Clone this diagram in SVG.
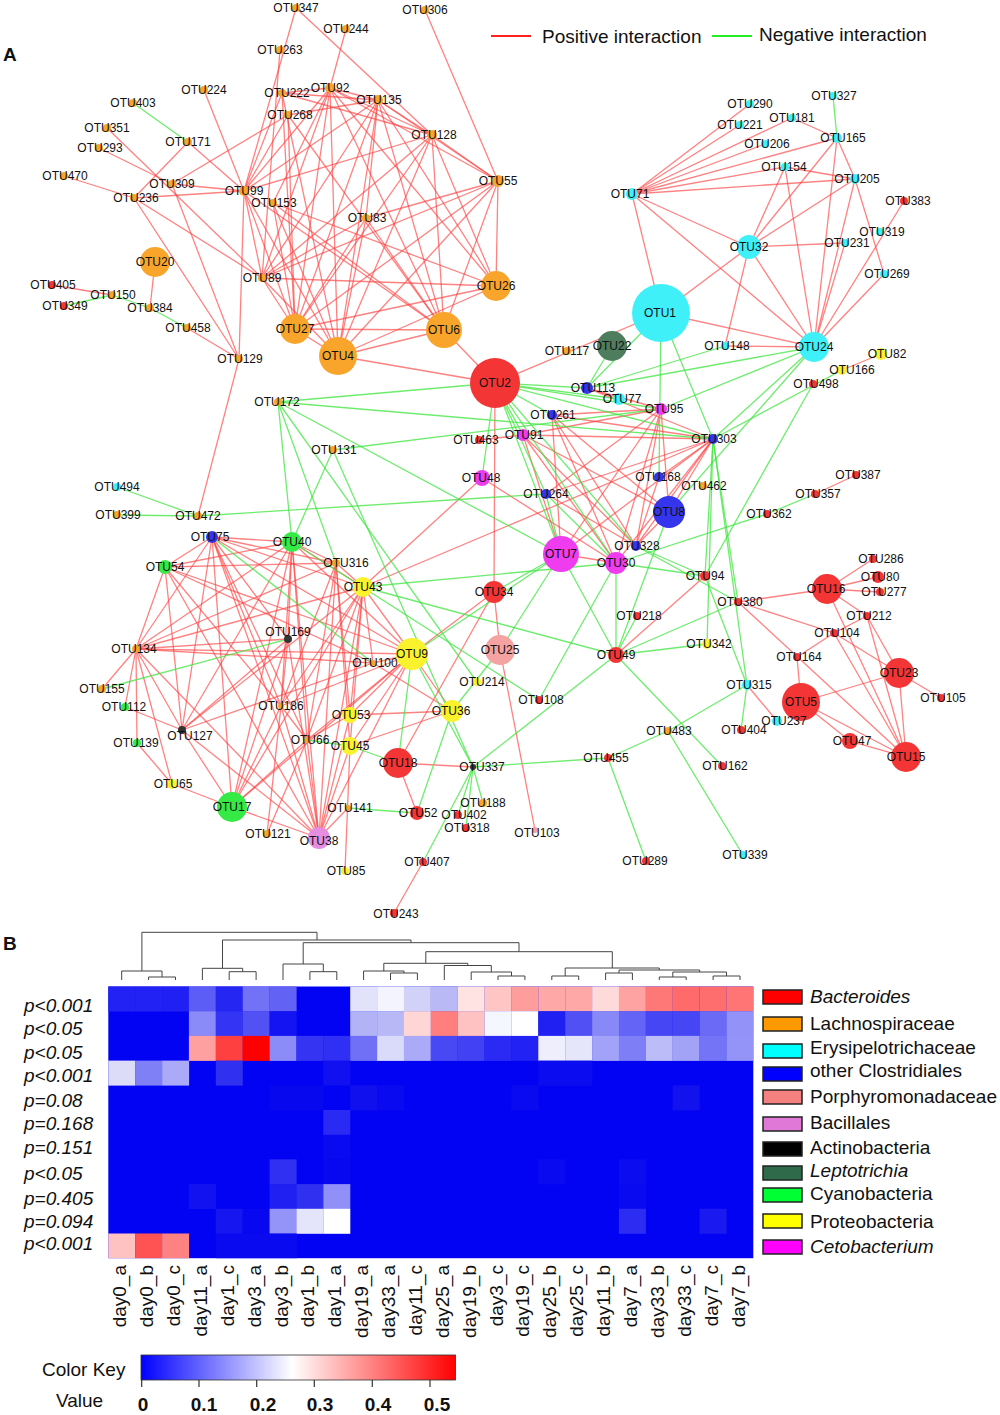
<svg xmlns="http://www.w3.org/2000/svg" width="1000" height="1415" viewBox="0 0 1000 1415">
<defs>
<linearGradient id="ck" x1="0" y1="0" x2="1" y2="0">
<stop offset="0" stop-color="#0000ff"/><stop offset="0.48" stop-color="#ffffff"/><stop offset="1" stop-color="#ff0000"/>
</linearGradient>
</defs>
<style>
.p{stroke:#ff4040;stroke-opacity:.66;stroke-width:1.3}
.n{stroke:#3ee63e;stroke-opacity:.75;stroke-width:1.3}
#nodes text{font-family:'Liberation Sans',Arial,sans-serif;font-size:12px;text-anchor:middle;fill:#111}
.L{fill:#f9a52c}.B{fill:#f43535}.E{fill:#3ff0f8}.C{fill:#3535ee}.M{fill:#ee3cee}.P{fill:#fbf22e}.G{fill:#35ea45}.K{fill:#333}.T{fill:#4d7d5d}.O{fill:#e58de0}.R{fill:#f4a2a2}
.t{font-family:'Liberation Sans',Arial,sans-serif;font-size:19px;fill:#111}
.it{font-style:italic}
.bd{font-weight:bold}
.dg{fill:none;stroke:#444;stroke-width:1}
.lg{stroke:#222;stroke-width:1.5}
</style>
<rect width="1000" height="1415" fill="#fff"/>
<text class="t bd" x="3" y="61" font-size="21">A</text>
<text class="t bd" x="3" y="950" font-size="21">B</text>
<g id="legend-top">
<line x1="491" y1="36" x2="531" y2="36" stroke="#ff2020" stroke-width="2"/>
<text class="t" x="542" y="43">Positive interaction</text>
<line x1="712" y1="36" x2="752" y2="36" stroke="#22ee22" stroke-width="2"/>
<text class="t" x="759" y="41">Negative interaction</text>
</g>
<g id="connectors">
<g class="p">
<line x1="52" y1="285" x2="112" y2="295"/><line x1="187" y1="328" x2="239" y2="359"/><line x1="155" y1="262" x2="150" y2="308"/><line x1="64" y1="176" x2="134" y2="198"/><line x1="188" y1="142" x2="134" y2="198"/><line x1="188" y1="142" x2="244" y2="191"/><line x1="107" y1="128" x2="262" y2="278"/><line x1="99" y1="148" x2="172" y2="184"/><line x1="172" y1="184" x2="244" y2="191"/><line x1="134" y1="198" x2="244" y2="191"/><line x1="172" y1="184" x2="288" y2="115"/><line x1="134" y1="198" x2="262" y2="278"/><line x1="134" y1="198" x2="239" y2="359"/><line x1="172" y1="184" x2="239" y2="359"/><line x1="204" y1="90" x2="244" y2="191"/><line x1="296" y1="8" x2="244" y2="191"/><line x1="280" y1="50" x2="262" y2="278"/><line x1="282" y1="93" x2="244" y2="191"/><line x1="288" y1="115" x2="244" y2="191"/><line x1="244" y1="191" x2="330" y2="88"/><line x1="244" y1="191" x2="378" y2="100"/><line x1="244" y1="191" x2="432" y2="135"/><line x1="244" y1="191" x2="239" y2="359"/><line x1="244" y1="191" x2="295" y2="329"/><line x1="244" y1="191" x2="338" y2="356"/><line x1="244" y1="191" x2="262" y2="278"/><line x1="244" y1="191" x2="444" y2="330"/><line x1="239" y1="359" x2="198" y2="516"/>
<line x1="296" y1="8" x2="432" y2="135"/><line x1="346" y1="29" x2="330" y2="88"/><line x1="425" y1="10" x2="498" y2="181"/><line x1="330" y1="88" x2="378" y2="100"/><line x1="330" y1="88" x2="432" y2="135"/><line x1="330" y1="88" x2="498" y2="181"/><line x1="330" y1="88" x2="282" y2="93"/><line x1="330" y1="88" x2="295" y2="329"/><line x1="330" y1="88" x2="338" y2="356"/><line x1="330" y1="88" x2="444" y2="330"/><line x1="330" y1="88" x2="496" y2="286"/><line x1="330" y1="88" x2="262" y2="278"/><line x1="330" y1="88" x2="273" y2="203"/><line x1="378" y1="100" x2="282" y2="93"/><line x1="378" y1="100" x2="288" y2="115"/><line x1="378" y1="100" x2="432" y2="135"/><line x1="378" y1="100" x2="498" y2="181"/><line x1="378" y1="100" x2="295" y2="329"/><line x1="378" y1="100" x2="338" y2="356"/><line x1="378" y1="100" x2="444" y2="330"/><line x1="378" y1="100" x2="496" y2="286"/><line x1="378" y1="100" x2="262" y2="278"/><line x1="378" y1="100" x2="366" y2="218"/><line x1="432" y1="135" x2="498" y2="181"/><line x1="432" y1="135" x2="295" y2="329"/><line x1="432" y1="135" x2="338" y2="356"/><line x1="432" y1="135" x2="444" y2="330"/><line x1="432" y1="135" x2="496" y2="286"/><line x1="432" y1="135" x2="262" y2="278"/><line x1="432" y1="135" x2="282" y2="93"/><line x1="498" y1="181" x2="262" y2="278"/><line x1="498" y1="181" x2="295" y2="329"/><line x1="498" y1="181" x2="338" y2="356"/><line x1="498" y1="181" x2="444" y2="330"/><line x1="498" y1="181" x2="496" y2="286"/><line x1="498" y1="181" x2="366" y2="218"/><line x1="496" y1="286" x2="262" y2="278"/><line x1="496" y1="286" x2="295" y2="329"/><line x1="496" y1="286" x2="338" y2="356"/><line x1="496" y1="286" x2="273" y2="203"/><line x1="295" y1="329" x2="262" y2="278"/><line x1="295" y1="329" x2="338" y2="356"/><line x1="295" y1="329" x2="444" y2="330"/><line x1="295" y1="329" x2="273" y2="203"/><line x1="295" y1="329" x2="282" y2="93"/><line x1="295" y1="329" x2="288" y2="115"/><line x1="338" y1="356" x2="444" y2="330"/><line x1="338" y1="356" x2="262" y2="278"/><line x1="338" y1="356" x2="273" y2="203"/><line x1="338" y1="356" x2="366" y2="218"/><line x1="338" y1="356" x2="495" y2="383"/><line x1="444" y1="330" x2="495" y2="383"/><line x1="444" y1="330" x2="366" y2="218"/><line x1="444" y1="330" x2="273" y2="203"/><line x1="366" y1="218" x2="262" y2="278"/><line x1="366" y1="218" x2="295" y2="329"/><line x1="282" y1="93" x2="338" y2="356"/><line x1="288" y1="115" x2="444" y2="330"/><line x1="495" y1="383" x2="661" y2="313"/>
<line x1="750" y1="104" x2="632" y2="194"/><line x1="740" y1="125" x2="632" y2="194"/><line x1="632" y1="194" x2="792" y2="118"/><line x1="632" y1="194" x2="837" y2="138"/><line x1="632" y1="194" x2="765" y2="144"/><line x1="632" y1="194" x2="785" y2="167"/><line x1="632" y1="194" x2="855" y2="179"/><line x1="632" y1="194" x2="749" y2="247"/><line x1="632" y1="194" x2="814" y2="347"/><line x1="632" y1="194" x2="661" y2="313"/><line x1="792" y1="118" x2="837" y2="138"/><line x1="837" y1="138" x2="749" y2="247"/><line x1="837" y1="138" x2="814" y2="347"/><line x1="837" y1="138" x2="855" y2="179"/><line x1="785" y1="167" x2="855" y2="179"/><line x1="785" y1="167" x2="749" y2="247"/><line x1="785" y1="167" x2="814" y2="347"/><line x1="855" y1="179" x2="749" y2="247"/><line x1="855" y1="179" x2="814" y2="347"/><line x1="855" y1="179" x2="884" y2="274"/><line x1="845" y1="243" x2="814" y2="347"/><line x1="749" y1="247" x2="845" y2="243"/><line x1="749" y1="247" x2="725" y2="346"/><line x1="749" y1="247" x2="814" y2="347"/><line x1="749" y1="247" x2="661" y2="313"/><line x1="904" y1="201" x2="814" y2="347"/><line x1="884" y1="274" x2="814" y2="347"/><line x1="661" y1="313" x2="814" y2="347"/><line x1="725" y1="346" x2="814" y2="347"/><line x1="881" y1="354" x2="842" y2="370"/>
<line x1="495" y1="383" x2="494" y2="592"/><line x1="482" y1="478" x2="363" y2="587"/><line x1="523" y1="435" x2="561" y2="554"/><line x1="523" y1="435" x2="616" y2="563"/><line x1="523" y1="435" x2="636" y2="546"/><line x1="523" y1="435" x2="669" y2="512"/><line x1="523" y1="435" x2="713" y2="439"/><line x1="523" y1="435" x2="661" y2="409"/><line x1="552" y1="415" x2="561" y2="554"/><line x1="552" y1="415" x2="616" y2="563"/><line x1="552" y1="415" x2="636" y2="546"/><line x1="552" y1="415" x2="713" y2="439"/><line x1="552" y1="415" x2="661" y2="409"/><line x1="552" y1="415" x2="669" y2="512"/><line x1="661" y1="409" x2="561" y2="554"/><line x1="661" y1="409" x2="616" y2="563"/><line x1="661" y1="409" x2="636" y2="546"/><line x1="661" y1="409" x2="546" y2="494"/><line x1="661" y1="409" x2="587" y2="388"/><line x1="661" y1="409" x2="669" y2="512"/><line x1="713" y1="439" x2="636" y2="546"/><line x1="713" y1="439" x2="669" y2="512"/><line x1="713" y1="439" x2="546" y2="494"/><line x1="713" y1="439" x2="561" y2="554"/><line x1="713" y1="439" x2="616" y2="563"/><line x1="587" y1="388" x2="713" y2="439"/><line x1="587" y1="388" x2="619" y2="399"/><line x1="659" y1="477" x2="636" y2="546"/><line x1="659" y1="477" x2="713" y2="439"/><line x1="523" y1="435" x2="479" y2="440"/><line x1="561" y1="554" x2="616" y2="563"/><line x1="482" y1="478" x2="616" y2="563"/><line x1="363" y1="587" x2="713" y2="439"/><line x1="669" y1="512" x2="636" y2="546"/><line x1="546" y1="494" x2="636" y2="546"/><line x1="494" y1="592" x2="500" y2="650"/><line x1="494" y1="592" x2="398" y2="763"/><line x1="412" y1="654" x2="494" y2="592"/><line x1="500" y1="650" x2="535" y2="830"/><line x1="705" y1="576" x2="616" y2="655"/><line x1="398" y1="763" x2="473" y2="767"/><line x1="398" y1="763" x2="417" y2="813"/><line x1="423" y1="862" x2="394" y2="913"/><line x1="747" y1="685" x2="777" y2="721"/>
<line x1="856" y1="475" x2="815" y2="494"/><line x1="827" y1="589" x2="873" y2="559"/><line x1="827" y1="589" x2="878" y2="577"/><line x1="827" y1="589" x2="880" y2="592"/><line x1="827" y1="589" x2="738" y2="602"/><line x1="827" y1="589" x2="867" y2="616"/><line x1="827" y1="589" x2="906" y2="757"/><line x1="738" y1="602" x2="834" y2="633"/><line x1="738" y1="602" x2="906" y2="757"/><line x1="834" y1="633" x2="797" y2="657"/><line x1="834" y1="633" x2="867" y2="616"/><line x1="834" y1="633" x2="899" y2="673"/><line x1="834" y1="633" x2="906" y2="757"/><line x1="867" y1="616" x2="899" y2="673"/><line x1="867" y1="616" x2="906" y2="757"/><line x1="797" y1="657" x2="801" y2="702"/><line x1="801" y1="702" x2="899" y2="673"/><line x1="801" y1="702" x2="850" y2="741"/><line x1="801" y1="702" x2="906" y2="757"/><line x1="850" y1="741" x2="906" y2="757"/><line x1="899" y1="673" x2="906" y2="757"/><line x1="899" y1="673" x2="941" y2="698"/>
<line x1="212" y1="537" x2="292" y2="542"/><line x1="212" y1="537" x2="336" y2="563"/><line x1="212" y1="537" x2="363" y2="587"/><line x1="212" y1="537" x2="165" y2="567"/><line x1="212" y1="537" x2="136" y2="649"/><line x1="212" y1="537" x2="182" y2="730"/><line x1="212" y1="537" x2="288" y2="639"/><line x1="212" y1="537" x2="281" y2="706"/><line x1="212" y1="537" x2="232" y2="807"/><line x1="212" y1="537" x2="412" y2="654"/><line x1="212" y1="537" x2="319" y2="838"/><line x1="212" y1="537" x2="307" y2="740"/><line x1="292" y1="542" x2="165" y2="567"/><line x1="292" y1="542" x2="336" y2="563"/><line x1="292" y1="542" x2="363" y2="587"/><line x1="292" y1="542" x2="136" y2="649"/><line x1="292" y1="542" x2="288" y2="639"/><line x1="292" y1="542" x2="281" y2="706"/><line x1="292" y1="542" x2="182" y2="730"/><line x1="292" y1="542" x2="412" y2="654"/><line x1="292" y1="542" x2="307" y2="740"/><line x1="292" y1="542" x2="319" y2="838"/><line x1="292" y1="542" x2="232" y2="807"/><line x1="165" y1="567" x2="336" y2="563"/><line x1="165" y1="567" x2="136" y2="649"/><line x1="165" y1="567" x2="182" y2="730"/><line x1="165" y1="567" x2="412" y2="654"/><line x1="165" y1="567" x2="281" y2="706"/><line x1="165" y1="567" x2="319" y2="838"/><line x1="336" y1="563" x2="363" y2="587"/><line x1="336" y1="563" x2="136" y2="649"/><line x1="336" y1="563" x2="281" y2="706"/><line x1="336" y1="563" x2="350" y2="715"/><line x1="336" y1="563" x2="350" y2="746"/><line x1="336" y1="563" x2="307" y2="740"/><line x1="336" y1="563" x2="319" y2="838"/><line x1="363" y1="587" x2="136" y2="649"/><line x1="363" y1="587" x2="373" y2="663"/><line x1="363" y1="587" x2="412" y2="654"/><line x1="363" y1="587" x2="281" y2="706"/><line x1="363" y1="587" x2="350" y2="715"/><line x1="363" y1="587" x2="350" y2="746"/><line x1="363" y1="587" x2="307" y2="740"/><line x1="363" y1="587" x2="319" y2="838"/><line x1="363" y1="587" x2="232" y2="807"/><line x1="363" y1="587" x2="182" y2="730"/><line x1="288" y1="639" x2="182" y2="730"/><line x1="288" y1="639" x2="281" y2="706"/><line x1="288" y1="639" x2="232" y2="807"/><line x1="288" y1="639" x2="319" y2="838"/><line x1="288" y1="639" x2="136" y2="649"/><line x1="136" y1="649" x2="102" y2="689"/><line x1="136" y1="649" x2="125" y2="707"/><line x1="136" y1="649" x2="137" y2="743"/><line x1="136" y1="649" x2="172" y2="784"/><line x1="136" y1="649" x2="182" y2="730"/><line x1="136" y1="649" x2="373" y2="663"/><line x1="136" y1="649" x2="412" y2="654"/><line x1="136" y1="649" x2="319" y2="838"/><line x1="373" y1="663" x2="182" y2="730"/><line x1="412" y1="654" x2="350" y2="715"/><line x1="412" y1="654" x2="350" y2="746"/><line x1="412" y1="654" x2="307" y2="740"/><line x1="412" y1="654" x2="281" y2="706"/><line x1="412" y1="654" x2="319" y2="838"/><line x1="412" y1="654" x2="452" y2="711"/><line x1="412" y1="654" x2="232" y2="807"/><line x1="125" y1="707" x2="182" y2="730"/><line x1="281" y1="706" x2="319" y2="838"/><line x1="281" y1="706" x2="232" y2="807"/><line x1="281" y1="706" x2="267" y2="834"/><line x1="281" y1="706" x2="307" y2="740"/><line x1="350" y1="715" x2="319" y2="838"/><line x1="350" y1="715" x2="307" y2="740"/><line x1="182" y1="730" x2="232" y2="807"/><line x1="182" y1="730" x2="319" y2="838"/><line x1="137" y1="743" x2="172" y2="784"/><line x1="307" y1="740" x2="319" y2="838"/><line x1="307" y1="740" x2="267" y2="834"/><line x1="307" y1="740" x2="232" y2="807"/><line x1="350" y1="746" x2="319" y2="838"/><line x1="350" y1="746" x2="345" y2="871"/><line x1="232" y1="807" x2="172" y2="784"/><line x1="232" y1="807" x2="319" y2="838"/><line x1="348" y1="808" x2="319" y2="838"/><line x1="452" y1="711" x2="350" y2="715"/><line x1="452" y1="711" x2="350" y2="746"/><line x1="452" y1="711" x2="373" y2="663"/><line x1="412" y1="654" x2="373" y2="663"/><line x1="165" y1="567" x2="373" y2="663"/>
</g>
<g class="n">
<line x1="133" y1="103" x2="188" y2="142"/><line x1="64" y1="306" x2="112" y2="295"/><line x1="112" y1="295" x2="150" y2="308"/><line x1="150" y1="308" x2="187" y2="328"/><line x1="833" y1="96" x2="837" y2="138"/><line x1="495" y1="383" x2="278" y2="402"/><line x1="495" y1="383" x2="587" y2="388"/><line x1="495" y1="383" x2="619" y2="399"/><line x1="495" y1="383" x2="661" y2="409"/><line x1="495" y1="383" x2="713" y2="439"/><line x1="495" y1="383" x2="552" y2="415"/><line x1="495" y1="383" x2="523" y2="435"/><line x1="495" y1="383" x2="546" y2="494"/><line x1="495" y1="383" x2="561" y2="554"/><line x1="495" y1="383" x2="482" y2="478"/><line x1="495" y1="383" x2="616" y2="563"/><line x1="495" y1="383" x2="636" y2="546"/><line x1="612" y1="346" x2="587" y2="388"/><line x1="661" y1="313" x2="587" y2="388"/><line x1="725" y1="346" x2="587" y2="388"/><line x1="814" y1="347" x2="587" y2="388"/><line x1="814" y1="347" x2="661" y2="409"/><line x1="814" y1="347" x2="669" y2="512"/><line x1="814" y1="347" x2="713" y2="439"/><line x1="661" y1="313" x2="659" y2="477"/><line x1="661" y1="313" x2="713" y2="439"/><line x1="842" y1="370" x2="713" y2="439"/><line x1="813" y1="384" x2="705" y2="576"/><line x1="278" y1="402" x2="713" y2="439"/><line x1="278" y1="402" x2="292" y2="542"/><line x1="278" y1="402" x2="336" y2="563"/><line x1="278" y1="402" x2="561" y2="554"/><line x1="278" y1="402" x2="477" y2="682"/><line x1="333" y1="450" x2="292" y2="542"/><line x1="333" y1="450" x2="661" y2="409"/><line x1="333" y1="450" x2="473" y2="767"/><line x1="292" y1="542" x2="539" y2="700"/><line x1="198" y1="516" x2="117" y2="515"/><line x1="198" y1="516" x2="117" y2="487"/><line x1="198" y1="516" x2="546" y2="494"/><line x1="546" y1="494" x2="561" y2="554"/><line x1="546" y1="494" x2="616" y2="563"/><line x1="713" y1="439" x2="705" y2="576"/><line x1="713" y1="439" x2="747" y2="685"/><line x1="713" y1="439" x2="707" y2="644"/><line x1="713" y1="439" x2="738" y2="602"/><line x1="669" y1="512" x2="616" y2="655"/><line x1="636" y1="546" x2="705" y2="576"/><line x1="616" y1="563" x2="705" y2="576"/><line x1="616" y1="563" x2="539" y2="700"/><line x1="616" y1="563" x2="616" y2="655"/><line x1="561" y1="554" x2="616" y2="655"/><line x1="561" y1="554" x2="494" y2="592"/><line x1="561" y1="554" x2="412" y2="654"/><line x1="561" y1="554" x2="500" y2="650"/><line x1="637" y1="616" x2="616" y2="655"/><line x1="707" y1="644" x2="616" y2="655"/><line x1="738" y1="602" x2="616" y2="655"/><line x1="616" y1="655" x2="473" y2="767"/><line x1="616" y1="655" x2="722" y2="766"/><line x1="363" y1="587" x2="616" y2="655"/><line x1="363" y1="587" x2="616" y2="563"/><line x1="500" y1="650" x2="452" y2="711"/><line x1="412" y1="654" x2="473" y2="767"/><line x1="412" y1="654" x2="398" y2="763"/><line x1="452" y1="711" x2="417" y2="813"/><line x1="473" y1="767" x2="608" y2="758"/><line x1="608" y1="758" x2="668" y2="731"/><line x1="608" y1="758" x2="646" y2="861"/><line x1="668" y1="731" x2="743" y2="855"/><line x1="668" y1="731" x2="747" y2="685"/><line x1="747" y1="685" x2="741" y2="730"/><line x1="473" y1="767" x2="483" y2="803"/><line x1="473" y1="767" x2="458" y2="815"/><line x1="473" y1="767" x2="466" y2="828"/><line x1="473" y1="767" x2="423" y2="862"/><line x1="348" y1="808" x2="417" y2="813"/><line x1="350" y1="746" x2="398" y2="763"/><line x1="307" y1="740" x2="350" y2="746"/><line x1="288" y1="639" x2="102" y2="689"/><line x1="212" y1="537" x2="373" y2="663"/><line x1="815" y1="494" x2="767" y2="514"/><line x1="767" y1="514" x2="616" y2="563"/><line x1="705" y1="576" x2="747" y2="685"/><line x1="738" y1="602" x2="636" y2="546"/>
</g>
</g>
<g id="nodes">
<g id="otu347"><circle class="L" cx="296" cy="8" r="4"/><text x="296" y="12">OTU347</text></g>
<g id="otu244"><circle class="L" cx="346" cy="29" r="4"/><text x="346" y="33">OTU244</text></g>
<g id="otu306"><circle class="L" cx="425" cy="10" r="4"/><text x="425" y="14">OTU306</text></g>
<g id="otu263"><circle class="L" cx="280" cy="50" r="4"/><text x="280" y="54">OTU263</text></g>
<g id="otu224"><circle class="L" cx="204" cy="90" r="4"/><text x="204" y="94">OTU224</text></g>
<g id="otu222"><circle class="L" cx="282" cy="93" r="4"/><text x="287" y="97">OTU222</text></g>
<g id="otu92"><circle class="L" cx="330" cy="88" r="5"/><text x="330" y="92">OTU92</text></g>
<g id="otu135"><circle class="L" cx="378" cy="100" r="5"/><text x="379" y="104">OTU135</text></g>
<g id="otu268"><circle class="L" cx="288" cy="115" r="4"/><text x="290" y="119">OTU268</text></g>
<g id="otu128"><circle class="L" cx="432" cy="135" r="5"/><text x="434" y="139">OTU128</text></g>
<g id="otu55"><circle class="L" cx="498" cy="181" r="6"/><text x="498" y="185">OTU55</text></g>
<g id="otu99"><circle class="L" cx="244" cy="191" r="5"/><text x="244" y="195">OTU99</text></g>
<g id="otu153"><circle class="L" cx="273" cy="203" r="4"/><text x="274" y="207">OTU153</text></g>
<g id="otu83"><circle class="L" cx="366" cy="218" r="4"/><text x="367" y="222">OTU83</text></g>
<g id="otu89"><circle class="L" cx="262" cy="278" r="4"/><text x="262" y="282">OTU89</text></g>
<g id="otu403"><circle class="L" cx="133" cy="103" r="4"/><text x="133" y="107">OTU403</text></g>
<g id="otu351"><circle class="L" cx="107" cy="128" r="4"/><text x="107" y="132">OTU351</text></g>
<g id="otu171"><circle class="L" cx="188" cy="142" r="4"/><text x="188" y="146">OTU171</text></g>
<g id="otu293"><circle class="L" cx="99" cy="148" r="4"/><text x="100" y="152">OTU293</text></g>
<g id="otu470"><circle class="L" cx="64" cy="176" r="4"/><text x="65" y="180">OTU470</text></g>
<g id="otu309"><circle class="L" cx="172" cy="184" r="4"/><text x="172" y="188">OTU309</text></g>
<g id="otu236"><circle class="L" cx="134" cy="198" r="4"/><text x="136" y="202">OTU236</text></g>
<g id="otu20"><circle class="L" cx="155" cy="262" r="15"/><text x="155" y="266">OTU20</text></g>
<g id="otu405"><circle class="B" cx="52" cy="285" r="4"/><text x="53" y="289">OTU405</text></g>
<g id="otu150"><circle class="L" cx="112" cy="295" r="4"/><text x="113" y="299">OTU150</text></g>
<g id="otu349"><circle class="B" cx="64" cy="306" r="4"/><text x="65" y="310">OTU349</text></g>
<g id="otu384"><circle class="L" cx="150" cy="308" r="4"/><text x="150" y="312">OTU384</text></g>
<g id="otu458"><circle class="L" cx="187" cy="328" r="4"/><text x="188" y="332">OTU458</text></g>
<g id="otu129"><circle class="L" cx="239" cy="359" r="4"/><text x="240" y="363">OTU129</text></g>
<g id="otu26"><circle class="L" cx="496" cy="286" r="15"/><text x="496" y="290">OTU26</text></g>
<g id="otu27"><circle class="L" cx="295" cy="329" r="15"/><text x="295" y="333">OTU27</text></g>
<g id="otu6"><circle class="L" cx="444" cy="330" r="18"/><text x="444" y="334">OTU6</text></g>
<g id="otu4"><circle class="L" cx="338" cy="356" r="19"/><text x="338" y="360">OTU4</text></g>
<g id="otu2"><circle class="B" cx="495" cy="383" r="25"/><text x="495" y="387">OTU2</text></g>
<g id="otu117"><circle class="L" cx="567" cy="351" r="4"/><text x="567" y="355">OTU117</text></g>
<g id="otu290"><circle class="E" cx="750" cy="104" r="4"/><text x="750" y="108">OTU290</text></g>
<g id="otu327"><circle class="E" cx="833" cy="96" r="4"/><text x="834" y="100">OTU327</text></g>
<g id="otu221"><circle class="E" cx="740" cy="125" r="4"/><text x="740" y="129">OTU221</text></g>
<g id="otu181"><circle class="E" cx="792" cy="118" r="4"/><text x="792" y="122">OTU181</text></g>
<g id="otu165"><circle class="E" cx="837" cy="138" r="5"/><text x="843" y="142">OTU165</text></g>
<g id="otu206"><circle class="E" cx="765" cy="144" r="4"/><text x="767" y="148">OTU206</text></g>
<g id="otu154"><circle class="E" cx="785" cy="167" r="4"/><text x="784" y="171">OTU154</text></g>
<g id="otu205"><circle class="E" cx="855" cy="179" r="5"/><text x="857" y="183">OTU205</text></g>
<g id="otu71"><circle class="E" cx="632" cy="194" r="6"/><text x="630" y="198">OTU71</text></g>
<g id="otu383"><circle class="B" cx="904" cy="201" r="4"/><text x="908" y="205">OTU383</text></g>
<g id="otu319"><circle class="E" cx="880" cy="232" r="4"/><text x="882" y="236">OTU319</text></g>
<g id="otu32"><circle class="E" cx="749" cy="247" r="12"/><text x="749" y="251">OTU32</text></g>
<g id="otu231"><circle class="E" cx="845" cy="243" r="4"/><text x="847" y="247">OTU231</text></g>
<g id="otu269"><circle class="E" cx="884" cy="274" r="4"/><text x="887" y="278">OTU269</text></g>
<g id="otu1"><circle class="E" cx="661" cy="313" r="29"/><text x="660" y="317">OTU1</text></g>
<g id="otu22"><circle class="T" cx="612" cy="346" r="15"/><text x="612" y="350">OTU22</text></g>
<g id="otu148"><circle class="E" cx="725" cy="346" r="4"/><text x="727" y="350">OTU148</text></g>
<g id="otu24"><circle class="E" cx="814" cy="347" r="15"/><text x="814" y="351">OTU24</text></g>
<g id="otu82"><circle class="P" cx="881" cy="354" r="6"/><text x="887" y="358">OTU82</text></g>
<g id="otu166"><circle class="P" cx="842" cy="370" r="5"/><text x="852" y="374">OTU166</text></g>
<g id="otu498"><circle class="B" cx="813" cy="384" r="4"/><text x="816" y="388">OTU498</text></g>
<g id="otu113"><circle class="C" cx="587" cy="388" r="6"/><text x="593" y="392">OTU113</text></g>
<g id="otu77"><circle class="E" cx="619" cy="399" r="6"/><text x="622" y="403">OTU77</text></g>
<g id="otu95"><circle class="M" cx="661" cy="409" r="6"/><text x="664" y="413">OTU95</text></g>
<g id="otu261"><circle class="C" cx="552" cy="415" r="5"/><text x="553" y="419">OTU261</text></g>
<g id="otu172"><circle class="L" cx="278" cy="402" r="4"/><text x="277" y="406">OTU172</text></g>
<g id="otu463"><circle class="B" cx="479" cy="440" r="4"/><text x="476" y="444">OTU463</text></g>
<g id="otu91"><circle class="M" cx="523" cy="435" r="6"/><text x="524" y="439">OTU91</text></g>
<g id="otu303"><circle class="C" cx="713" cy="439" r="5"/><text x="714" y="443">OTU303</text></g>
<g id="otu131"><circle class="L" cx="333" cy="450" r="4"/><text x="334" y="454">OTU131</text></g>
<g id="otu48"><circle class="M" cx="482" cy="478" r="8"/><text x="481" y="482">OTU48</text></g>
<g id="otu168"><circle class="C" cx="659" cy="477" r="5"/><text x="658" y="481">OTU168</text></g>
<g id="otu462"><circle class="L" cx="703" cy="486" r="4"/><text x="704" y="490">OTU462</text></g>
<g id="otu264"><circle class="C" cx="546" cy="494" r="5"/><text x="546" y="498">OTU264</text></g>
<g id="otu8"><circle class="C" cx="669" cy="512" r="16"/><text x="669" y="516">OTU8</text></g>
<g id="otu387"><circle class="B" cx="856" cy="475" r="4"/><text x="858" y="479">OTU387</text></g>
<g id="otu357"><circle class="B" cx="815" cy="494" r="4"/><text x="818" y="498">OTU357</text></g>
<g id="otu362"><circle class="B" cx="767" cy="514" r="4"/><text x="769" y="518">OTU362</text></g>
<g id="otu494"><circle class="E" cx="117" cy="487" r="4"/><text x="117" y="491">OTU494</text></g>
<g id="otu399"><circle class="L" cx="117" cy="515" r="4"/><text x="118" y="519">OTU399</text></g>
<g id="otu472"><circle class="L" cx="198" cy="516" r="4"/><text x="198" y="520">OTU472</text></g>
<g id="otu75"><circle class="C" cx="212" cy="537" r="6"/><text x="210" y="541">OTU75</text></g>
<g id="otu40"><circle class="G" cx="292" cy="542" r="10"/><text x="292" y="546">OTU40</text></g>
<g id="otu54"><circle class="G" cx="165" cy="567" r="7"/><text x="165" y="571">OTU54</text></g>
<g id="otu316"><circle class="L" cx="336" cy="563" r="4"/><text x="346" y="567">OTU316</text></g>
<g id="otu43"><circle class="P" cx="363" cy="587" r="10"/><text x="363" y="591">OTU43</text></g>
<g id="otu328"><circle class="C" cx="636" cy="546" r="5"/><text x="637" y="550">OTU328</text></g>
<g id="otu7"><circle class="M" cx="561" cy="554" r="18"/><text x="561" y="558">OTU7</text></g>
<g id="otu30"><circle class="M" cx="616" cy="563" r="11"/><text x="616" y="567">OTU30</text></g>
<g id="otu94"><circle class="B" cx="705" cy="576" r="5"/><text x="705" y="580">OTU94</text></g>
<g id="otu34"><circle class="B" cx="494" cy="592" r="11"/><text x="494" y="596">OTU34</text></g>
<g id="otu380"><circle class="B" cx="738" cy="602" r="4"/><text x="740" y="606">OTU380</text></g>
<g id="otu218"><circle class="B" cx="637" cy="616" r="4"/><text x="639" y="620">OTU218</text></g>
<g id="otu286"><circle class="B" cx="873" cy="559" r="4"/><text x="881" y="563">OTU286</text></g>
<g id="otu80"><circle class="B" cx="878" cy="577" r="6"/><text x="880" y="581">OTU80</text></g>
<g id="otu16"><circle class="B" cx="827" cy="589" r="15"/><text x="826" y="593">OTU16</text></g>
<g id="otu277"><circle class="B" cx="880" cy="592" r="4"/><text x="884" y="596">OTU277</text></g>
<g id="otu212"><circle class="B" cx="867" cy="616" r="4"/><text x="869" y="620">OTU212</text></g>
<g id="otu104"><circle class="B" cx="834" cy="633" r="4"/><text x="837" y="637">OTU104</text></g>
<g id="otu164"><circle class="B" cx="797" cy="657" r="4"/><text x="799" y="661">OTU164</text></g>
<g id="otu23"><circle class="B" cx="899" cy="673" r="15"/><text x="899" y="677">OTU23</text></g>
<g id="otu5"><circle class="B" cx="801" cy="702" r="19"/><text x="801" y="706">OTU5</text></g>
<g id="otu105"><circle class="B" cx="941" cy="698" r="4"/><text x="943" y="702">OTU105</text></g>
<g id="otu47"><circle class="B" cx="850" cy="741" r="8"/><text x="852" y="745">OTU47</text></g>
<g id="otu15"><circle class="B" cx="906" cy="757" r="15"/><text x="906" y="761">OTU15</text></g>
<g id="otu169"><circle class="K" cx="288" cy="639" r="4"/><text x="288" y="636">OTU169</text></g>
<g id="otu134"><circle class="L" cx="136" cy="649" r="4"/><text x="134" y="653">OTU134</text></g>
<g id="otu100"><circle class="L" cx="373" cy="663" r="3"/><text x="375" y="667">OTU100</text></g>
<g id="otu9"><circle class="P" cx="412" cy="654" r="16"/><text x="412" y="658">OTU9</text></g>
<g id="otu25"><circle class="R" cx="500" cy="650" r="15"/><text x="500" y="654">OTU25</text></g>
<g id="otu342"><circle class="P" cx="707" cy="644" r="5"/><text x="709" y="648">OTU342</text></g>
<g id="otu49"><circle class="B" cx="616" cy="655" r="8"/><text x="616" y="659">OTU49</text></g>
<g id="otu155"><circle class="L" cx="102" cy="689" r="4"/><text x="102" y="693">OTU155</text></g>
<g id="otu112"><circle class="G" cx="125" cy="707" r="4"/><text x="124" y="711">OTU112</text></g>
<g id="otu186"><circle class="L" cx="281" cy="706" r="3"/><text x="281" y="710">OTU186</text></g>
<g id="otu214"><circle class="P" cx="477" cy="682" r="4"/><text x="482" y="686">OTU214</text></g>
<g id="otu315"><circle class="E" cx="747" cy="685" r="5"/><text x="749" y="689">OTU315</text></g>
<g id="otu108"><circle class="B" cx="539" cy="700" r="4"/><text x="541" y="704">OTU108</text></g>
<g id="otu53"><circle class="P" cx="350" cy="715" r="8"/><text x="351" y="719">OTU53</text></g>
<g id="otu36"><circle class="P" cx="452" cy="711" r="11"/><text x="451" y="715">OTU36</text></g>
<g id="otu127"><circle class="K" cx="182" cy="730" r="4"/><text x="190" y="740">OTU127</text></g>
<g id="otu139"><circle class="G" cx="137" cy="743" r="4"/><text x="136" y="747">OTU139</text></g>
<g id="otu66"><circle class="L" cx="307" cy="740" r="3"/><text x="310" y="744">OTU66</text></g>
<g id="otu45"><circle class="P" cx="350" cy="746" r="9"/><text x="350" y="750">OTU45</text></g>
<g id="otu483"><circle class="L" cx="668" cy="731" r="4"/><text x="669" y="735">OTU483</text></g>
<g id="otu404"><circle class="B" cx="741" cy="730" r="4"/><text x="744" y="734">OTU404</text></g>
<g id="otu237"><circle class="E" cx="777" cy="721" r="5"/><text x="784" y="725">OTU237</text></g>
<g id="otu18"><circle class="B" cx="398" cy="763" r="15"/><text x="398" y="767">OTU18</text></g>
<g id="otu337"><circle class="K" cx="473" cy="767" r="3"/><text x="482" y="771">OTU337</text></g>
<g id="otu455"><circle class="B" cx="608" cy="758" r="4"/><text x="606" y="762">OTU455</text></g>
<g id="otu162"><circle class="B" cx="722" cy="766" r="4"/><text x="725" y="770">OTU162</text></g>
<g id="otu65"><circle class="P" cx="172" cy="784" r="5"/><text x="173" y="788">OTU65</text></g>
<g id="otu17"><circle class="G" cx="232" cy="807" r="15"/><text x="232" y="811">OTU17</text></g>
<g id="otu141"><circle class="L" cx="348" cy="808" r="3"/><text x="350" y="812">OTU141</text></g>
<g id="otu52"><circle class="B" cx="417" cy="813" r="7"/><text x="418" y="817">OTU52</text></g>
<g id="otu188"><circle class="L" cx="483" cy="803" r="4"/><text x="483" y="807">OTU188</text></g>
<g id="otu402"><circle class="B" cx="458" cy="815" r="4"/><text x="464" y="819">OTU402</text></g>
<g id="otu318"><circle class="B" cx="466" cy="828" r="4"/><text x="467" y="832">OTU318</text></g>
<g id="otu103"><circle class="R" cx="535" cy="830" r="3"/><text x="537" y="837">OTU103</text></g>
<g id="otu121"><circle class="L" cx="267" cy="834" r="4"/><text x="268" y="838">OTU121</text></g>
<g id="otu38"><circle class="O" cx="319" cy="838" r="11"/><text x="319" y="845">OTU38</text></g>
<g id="otu85"><circle class="P" cx="345" cy="871" r="4"/><text x="346" y="875">OTU85</text></g>
<g id="otu407"><circle class="B" cx="423" cy="862" r="4"/><text x="427" y="866">OTU407</text></g>
<g id="otu289"><circle class="B" cx="646" cy="861" r="4"/><text x="645" y="865">OTU289</text></g>
<g id="otu339"><circle class="E" cx="743" cy="855" r="4"/><text x="745" y="859">OTU339</text></g>
<g id="otu243"><circle class="B" cx="394" cy="913" r="4"/><text x="396" y="918">OTU243</text></g>
</g>
<g id="dendrogram" class="dg">
<path d="M148.6,980V977H175.5V980M121.7,980V971H162V977M141.9,971V932.3H317V940"/>
<path d="M229.2,980V971.7H256.1V980M202.4,980V968.3H242.7V971.7M222.5,968.3V940H411V942.7"/>
<path d="M309.9,980V971.7H336.8V980M283,980V964H323.3V971.7M303.2,964V942.7H519V951.7"/>
<path d="M390.5,980V973H417.4V980M363.6,980V971H404V973M498,980V976H524.9V980M471.2,980V972H511.5V976M444.3,980V965.5H491.3V972M383.8,971V963.3H467.8V965.5"/>
<path d="M551.8,980V976H578.7V980M605.6,980V973H632.4V980M659.3,980V977H686.2V980M713.1,980V976H740V980M672.8,977V972H726.5V976M619,973V970H699.7V972M565.2,976V968H659.3V970M425.8,963.3V951.7H612.3V968"/>
</g>
<g id="heatmap">
<rect x="108.3" y="986.5" width="645" height="271.7" fill="#0303f3"/>
<g id="r0">
<rect x="108.3" y="986.5" width="27" height="25" fill="#2222f4"/><rect x="135.2" y="986.5" width="27" height="25" fill="#2222f4"/><rect x="162.1" y="986.5" width="27" height="25" fill="#2020f4"/><rect x="188.9" y="986.5" width="27" height="25" fill="#5c5cf6"/><rect x="215.8" y="986.5" width="27" height="25" fill="#2626f2"/><rect x="242.7" y="986.5" width="27" height="25" fill="#7272f6"/><rect x="269.6" y="986.5" width="27" height="25" fill="#6262f4"/><rect x="350.2" y="986.5" width="27" height="25" fill="#e2e2fb"/><rect x="377.1" y="986.5" width="27" height="25" fill="#f4f4fe"/><rect x="403.9" y="986.5" width="27" height="25" fill="#d2d2f8"/><rect x="430.8" y="986.5" width="27" height="25" fill="#b9b9f6"/><rect x="457.7" y="986.5" width="27" height="25" fill="#ffe2e2"/><rect x="484.6" y="986.5" width="27" height="25" fill="#ffc4c4"/><rect x="511.4" y="986.5" width="27" height="25" fill="#ff9c9c"/><rect x="538.3" y="986.5" width="27" height="25" fill="#ffa8a8"/><rect x="565.2" y="986.5" width="27" height="25" fill="#ffa8a8"/><rect x="592.1" y="986.5" width="27" height="25" fill="#ffdada"/><rect x="618.9" y="986.5" width="27" height="25" fill="#ffa2a2"/><rect x="645.8" y="986.5" width="27" height="25" fill="#ff7878"/><rect x="672.7" y="986.5" width="27" height="25" fill="#ff6a6a"/><rect x="699.6" y="986.5" width="27" height="25" fill="#ff6e6e"/><rect x="726.4" y="986.5" width="26.9" height="25" fill="#ff7474"/>
</g>
<g id="r1">
<rect x="188.9" y="1011.2" width="27" height="25" fill="#8a8af8"/><rect x="215.8" y="1011.2" width="27" height="25" fill="#3434f4"/><rect x="242.7" y="1011.2" width="27" height="25" fill="#5252f4"/><rect x="269.6" y="1011.2" width="27" height="25" fill="#1414f2"/><rect x="350.2" y="1011.2" width="27" height="25" fill="#b2b2f6"/><rect x="377.1" y="1011.2" width="27" height="25" fill="#b8b8f6"/><rect x="403.9" y="1011.2" width="27" height="25" fill="#ffd6d6"/><rect x="430.8" y="1011.2" width="27" height="25" fill="#ff7e7e"/><rect x="457.7" y="1011.2" width="27" height="25" fill="#ffc2c2"/><rect x="484.6" y="1011.2" width="27" height="25" fill="#f5f7ff"/><rect x="511.4" y="1011.2" width="27" height="25" fill="#ffffff"/><rect x="538.3" y="1011.2" width="27" height="25" fill="#2020f2"/><rect x="565.2" y="1011.2" width="27" height="25" fill="#5050f4"/><rect x="592.1" y="1011.2" width="27" height="25" fill="#8888f6"/><rect x="618.9" y="1011.2" width="27" height="25" fill="#6464f6"/><rect x="645.8" y="1011.2" width="27" height="25" fill="#4646f4"/><rect x="672.7" y="1011.2" width="27" height="25" fill="#4646f4"/><rect x="699.6" y="1011.2" width="27" height="25" fill="#6a6af6"/><rect x="726.4" y="1011.2" width="26.9" height="25" fill="#9292f8"/>
</g>
<g id="r2">
<rect x="188.9" y="1035.9" width="27" height="25" fill="#ffa0a0"/><rect x="215.8" y="1035.9" width="27" height="25" fill="#ff4040"/><rect x="242.7" y="1035.9" width="27" height="25" fill="#ff0000"/><rect x="269.6" y="1035.9" width="27" height="25" fill="#8c8cf8"/><rect x="296.4" y="1035.9" width="27" height="25" fill="#3434f2"/><rect x="323.3" y="1035.9" width="27" height="25" fill="#3030f4"/><rect x="350.2" y="1035.9" width="27" height="25" fill="#7070f6"/><rect x="377.1" y="1035.9" width="27" height="25" fill="#dadafa"/><rect x="403.9" y="1035.9" width="27" height="25" fill="#aaaaf8"/><rect x="430.8" y="1035.9" width="27" height="25" fill="#4848f4"/><rect x="457.7" y="1035.9" width="27" height="25" fill="#4242f4"/><rect x="484.6" y="1035.9" width="27" height="25" fill="#2a2af4"/><rect x="511.4" y="1035.9" width="27" height="25" fill="#2222f4"/><rect x="538.3" y="1035.9" width="27" height="25" fill="#eeeefc"/><rect x="565.2" y="1035.9" width="27" height="25" fill="#e6e6fa"/><rect x="592.1" y="1035.9" width="27" height="25" fill="#a2a2f8"/><rect x="618.9" y="1035.9" width="27" height="25" fill="#7e7ef6"/><rect x="645.8" y="1035.9" width="27" height="25" fill="#bcbcf8"/><rect x="672.7" y="1035.9" width="27" height="25" fill="#a2a2f6"/><rect x="699.6" y="1035.9" width="27" height="25" fill="#7474f6"/><rect x="726.4" y="1035.9" width="26.9" height="25" fill="#9494f8"/>
</g>
<g id="r3">
<rect x="108.3" y="1060.6" width="27" height="25" fill="#dcdcf8"/><rect x="135.2" y="1060.6" width="27" height="25" fill="#8080f6"/><rect x="162.1" y="1060.6" width="27" height="25" fill="#aaaaf8"/><rect x="215.8" y="1060.6" width="27" height="25" fill="#3030f0"/><rect x="323.3" y="1060.6" width="27" height="25" fill="#1010f0"/><rect x="538.3" y="1060.6" width="54" height="25" fill="#0c0cf0"/>
</g>
<g id="r4-10">
<rect x="269.6" y="1085.3" width="54" height="25" fill="#0808ee"/><rect x="350.2" y="1085.3" width="27" height="25" fill="#1010ee"/><rect x="377.1" y="1085.3" width="27" height="25" fill="#0a0af0"/><rect x="511.4" y="1085.3" width="27" height="25" fill="#0a0af0"/><rect x="672.7" y="1085.3" width="27" height="25" fill="#1212ee"/>
<rect x="323.3" y="1110" width="27" height="25" fill="#2a2af4"/>
<rect x="323.3" y="1134.7" width="27" height="25" fill="#0a0af0"/>
<rect x="269.6" y="1159.4" width="27" height="25" fill="#3030f2"/><rect x="323.3" y="1159.4" width="27" height="25" fill="#0808f0"/><rect x="538.3" y="1159.4" width="27" height="25" fill="#0a0af0"/><rect x="618.9" y="1159.4" width="27" height="25" fill="#0c0cf0"/>
<rect x="188.9" y="1184.1" width="27" height="25" fill="#1212f0"/><rect x="269.6" y="1184.1" width="27" height="25" fill="#2020f2"/><rect x="296.4" y="1184.1" width="27" height="25" fill="#3030f0"/><rect x="323.3" y="1184.1" width="27" height="25" fill="#9090f8"/><rect x="618.9" y="1184.1" width="27" height="25" fill="#0a0af0"/>
<rect x="215.8" y="1208.8" width="27" height="25" fill="#1616f0"/><rect x="242.7" y="1208.8" width="27" height="25" fill="#0808f0"/><rect x="269.6" y="1208.8" width="27" height="25" fill="#9494f8"/><rect x="296.4" y="1208.8" width="27" height="25" fill="#e4e4fa"/><rect x="323.3" y="1208.8" width="27" height="25" fill="#ffffff"/><rect x="618.9" y="1208.8" width="27" height="25" fill="#2c2cf2"/><rect x="699.6" y="1208.8" width="27" height="25" fill="#1a1af0"/>
<rect x="108.3" y="1233.5" width="27" height="24.7" fill="#ffc2c2"/><rect x="135.2" y="1233.5" width="27" height="24.7" fill="#ff5252"/><rect x="162.1" y="1233.5" width="27" height="24.7" fill="#ff8282"/><rect x="215.8" y="1233.5" width="81" height="24.7" fill="#0a0af0"/>
</g>
</g>
<g id="row-labels" class="t it">
<text x="24" y="1012">p&lt;0.001</text><text x="24" y="1035">p&lt;0.05</text><text x="24" y="1058.5">p&lt;0.05</text><text x="24" y="1082">p&lt;0.001</text><text x="24" y="1107">p=0.08</text><text x="24" y="1130">p=0.168</text><text x="24" y="1154">p=0.151</text><text x="24" y="1180">p&lt;0.05</text><text x="24" y="1205">p=0.405</text><text x="24" y="1228">p=0.094</text><text x="24" y="1250">p&lt;0.001</text>
</g>
<g id="col-labels" class="t" text-anchor="end">
<text transform="translate(126.2,1265) rotate(-90)">day0_a</text>
<text transform="translate(153.1,1265) rotate(-90)">day0_b</text>
<text transform="translate(180,1265) rotate(-90)">day0_c</text>
<text transform="translate(206.9,1265) rotate(-90)">day11_a</text>
<text transform="translate(233.7,1265) rotate(-90)">day1_c</text>
<text transform="translate(260.6,1265) rotate(-90)">day3_a</text>
<text transform="translate(287.5,1265) rotate(-90)">day3_b</text>
<text transform="translate(314.4,1265) rotate(-90)">day1_b</text>
<text transform="translate(341.3,1265) rotate(-90)">day1_a</text>
<text transform="translate(368.1,1265) rotate(-90)">day19_a</text>
<text transform="translate(395,1265) rotate(-90)">day33_a</text>
<text transform="translate(421.9,1265) rotate(-90)">day11_c</text>
<text transform="translate(448.8,1265) rotate(-90)">day25_a</text>
<text transform="translate(475.7,1265) rotate(-90)">day19_b</text>
<text transform="translate(502.5,1265) rotate(-90)">day3_c</text>
<text transform="translate(529.4,1265) rotate(-90)">day19_c</text>
<text transform="translate(556.3,1265) rotate(-90)">day25_b</text>
<text transform="translate(583.2,1265) rotate(-90)">day25_c</text>
<text transform="translate(610.1,1265) rotate(-90)">day11_b</text>
<text transform="translate(636.9,1265) rotate(-90)">day7_a</text>
<text transform="translate(663.8,1265) rotate(-90)">day33_b</text>
<text transform="translate(690.7,1265) rotate(-90)">day33_c</text>
<text transform="translate(717.6,1265) rotate(-90)">day7_c</text>
<text transform="translate(744.5,1265) rotate(-90)">day7_b</text>
</g>
<g id="taxa-legend">
<rect class="lg" x="763" y="990" width="39" height="14" fill="#ff0000"/><text class="t it" x="810" y="1003">Bacteroides</text>
<rect class="lg" x="763" y="1017" width="39" height="14" fill="#ff9900"/><text class="t" x="810" y="1030">Lachnospiraceae</text>
<rect class="lg" x="763" y="1044" width="39" height="14" fill="#00ffff"/><text class="t" x="810" y="1054">Erysipelotrichaceae</text>
<rect class="lg" x="763" y="1067" width="39" height="14" fill="#0000ff"/><text class="t" x="810" y="1077">other Clostridiales</text>
<rect class="lg" x="763" y="1090" width="39" height="14" fill="#f58080"/><text class="t" x="810" y="1103">Porphyromonadaceae</text>
<rect class="lg" x="763" y="1117" width="39" height="14" fill="#e078d8"/><text class="t" x="810" y="1129">Bacillales</text>
<rect class="lg" x="763" y="1142" width="39" height="14" fill="#000000"/><text class="t" x="810" y="1154">Actinobacteria</text>
<rect class="lg" x="763" y="1166" width="39" height="14" fill="#2f6b4a"/><text class="t it" x="810" y="1177">Leptotrichia</text>
<rect class="lg" x="763" y="1188" width="39" height="14" fill="#00ff33"/><text class="t" x="810" y="1200">Cyanobacteria</text>
<rect class="lg" x="763" y="1214" width="39" height="14" fill="#ffff00"/><text class="t" x="810" y="1228">Proteobacteria</text>
<rect class="lg" x="763" y="1240" width="39" height="14" fill="#ff00ff"/><text class="t it" x="810" y="1253">Cetobacterium</text>
</g>
<g id="color-key">
<text class="t" x="42" y="1376">Color Key</text>
<text class="t" x="56" y="1407">Value</text>
<rect x="141" y="1355" width="314.5" height="25" fill="url(#ck)" stroke="#333" stroke-width="0.8"/>
<g stroke="#333" stroke-width="1.2">
<line x1="141.7" y1="1380" x2="141.7" y2="1387"/><line x1="199" y1="1380" x2="199" y2="1387"/><line x1="256.7" y1="1380" x2="256.7" y2="1387"/><line x1="314.3" y1="1380" x2="314.3" y2="1387"/><line x1="372.3" y1="1380" x2="372.3" y2="1387"/><line x1="430" y1="1380" x2="430" y2="1387"/>
</g>
<g class="t bd" text-anchor="middle">
<text x="143" y="1411">0</text><text x="204" y="1411">0.1</text><text x="263" y="1411">0.2</text><text x="320" y="1411">0.3</text><text x="378" y="1411">0.4</text><text x="437" y="1411">0.5</text>
</g>
</g>
</svg>
